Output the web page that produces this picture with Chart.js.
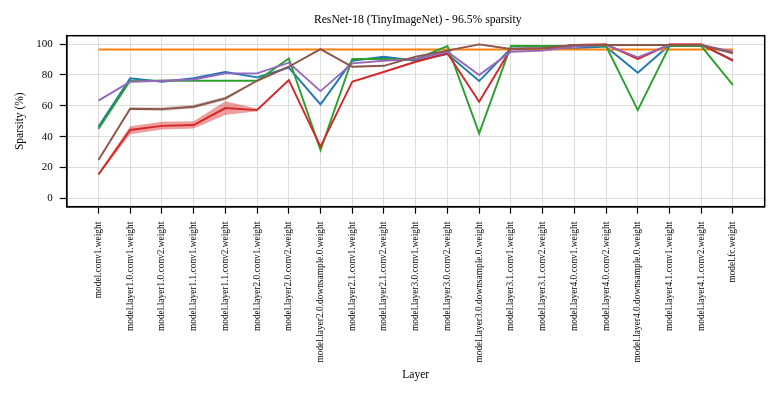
<!DOCTYPE html>
<html>
<head>
<meta charset="utf-8">
<script src="https://cdn.jsdelivr.net/npm/chart.js@4/dist/chart.umd.min.js"></script>
<style>
  html, body { margin: 0; padding: 0; background: #fff; }
  #wrap { width: 779px; height: 396px; }
</style>
</head>
<body>
<div id="wrap"><canvas id="myChart" width="779" height="396"></canvas></div>
<script>
// layer names on the x axis
const layerNames = [
  "model.conv1.weight",
  "model.layer1.0.conv1.weight",
  "model.layer1.0.conv2.weight",
  "model.layer1.1.conv1.weight",
  "model.layer1.1.conv2.weight",
  "model.layer2.0.conv1.weight",
  "model.layer2.0.conv2.weight",
  "model.layer2.0.downsample.0.weight",
  "model.layer2.1.conv1.weight",
  "model.layer2.1.conv2.weight",
  "model.layer3.0.conv1.weight",
  "model.layer3.0.conv2.weight",
  "model.layer3.0.downsample.0.weight",
  "model.layer3.1.conv1.weight",
  "model.layer3.1.conv2.weight",
  "model.layer4.0.conv1.weight",
  "model.layer4.0.conv2.weight",
  "model.layer4.0.downsample.0.weight",
  "model.layer4.1.conv1.weight",
  "model.layer4.1.conv2.weight",
  "model.fc.weight"
];

const yTicks = [0, 20, 40, 60, 80, 100];

// sparsity per layer (%)
const blueVals   = [46.4, 77.8, 75.6, 77.8, 81.9, 78.4, 84.7, 60.9, 89.2, 91.8, 89.2, 93.5, 76.0, 97.2, 97.2, 97.2, 98.3, 81.4, 99.4, 99.4, 89.6];
const orangeVals = [96.5, 96.5, 96.5, 96.5, 96.5, 96.5, 96.5, 96.5, 96.5, 96.5, 96.5, 96.5, 96.5, 96.5, 96.5, 96.5, 96.5, 96.5, 96.5, 96.5, 96.5];
const greenVals  = [44.9, 76.2, 76.2, 76.2, 76.2, 76.2, 90.7, 31.3, 90.3, 90.3, 90.1, 98.7, 42.1, 98.7, 98.7, 98.7, 98.7, 57.2, 98.7, 98.7, 73.4];
const redVals    = [15.5, 44.3, 47.0, 47.5, 58.5, 57.2, 76.7, 33.5, 75.6, 82.0, 88.5, 94.0, 62.6, 96.8, 97.2, 99.4, 99.8, 90.3, 99.8, 99.8, 89.2];
const purpleVals = [63.3, 75.6, 76.2, 77.0, 81.0, 81.0, 87.9, 69.5, 87.5, 89.2, 90.3, 95.0, 79.9, 95.0, 95.7, 98.3, 99.4, 91.4, 99.4, 99.4, 95.0];
const brownVals  = [24.8, 58.1, 57.8, 59.4, 64.8, 76.2, 85.3, 96.7, 85.3, 85.9, 91.8, 95.7, 99.8, 96.8, 97.2, 99.4, 99.4, 99.4, 99.4, 99.4, 94.0];

// spread around the red and brown runs
const redLow   = [14.6, 41.6, 44.7, 45.2, 54.0, 56.4, 76.0, 32.8, 74.9, 81.3, 87.8, 93.3, 61.9, 96.1, 96.5, 98.7, 99.1, 89.6, 99.1, 99.1, 88.5];
const redHigh  = [16.4, 46.8, 49.6, 50.0, 63.0, 58.2, 77.4, 34.2, 76.3, 82.7, 89.2, 94.7, 63.3, 97.5, 97.9, 100.1, 100.5, 91.0, 100.5, 100.5, 89.9];
const brownLow  = [24.3, 57.3, 56.6, 58.2, 63.6, 75.7, 84.8, 96.2, 84.8, 85.4, 91.3, 95.2, 99.3, 96.3, 96.7, 98.9, 98.9, 98.9, 98.9, 98.9, 93.5];
const brownHigh = [25.3, 58.9, 59.0, 60.6, 66.0, 76.7, 85.8, 97.2, 85.8, 86.4, 92.3, 96.2, 100.3, 97.3, 97.7, 99.9, 99.9, 99.9, 99.9, 99.9, 94.5];

const FONT = "'Liberation Serif', 'Times New Roman', serif";

function toPoints(vals) {
  return vals.map((v, i) => ({x: i, y: v}));
}

function lineSet(label, vals, color, order) {
  return {
    label: label,
    data: toPoints(vals),
    borderColor: color,
    backgroundColor: color,
    borderWidth: 1.9,
    pointRadius: 0,
    tension: 0,
    fill: false,
    order: order
  };
}

function bandSet(label, vals, color, fill, order) {
  return {
    label: label,
    data: toPoints(vals),
    borderWidth: 0,
    borderColor: 'rgba(0,0,0,0)',
    backgroundColor: color,
    pointRadius: 0,
    tension: 0,
    fill: fill,
    order: order
  };
}

// lower order = drawn on top
const datasets = [
  bandSet('redHigh', redHigh, 'rgba(214,39,40,0.45)', '+1', 20),
  bandSet('redLow', redLow, 'rgba(0,0,0,0)', false, 21),
  bandSet('brownHigh', brownHigh, 'rgba(140,86,75,0.35)', '+1', 22),
  bandSet('brownLow', brownLow, 'rgba(0,0,0,0)', false, 23),
  lineSet('blue', blueVals, '#1f77b4', 6),
  lineSet('orange', orangeVals, '#ff7f0e', 5),
  lineSet('green', greenVals, '#2ca02c', 4),
  lineSet('red', redVals, '#d62728', 3),
  lineSet('purple', purpleVals, '#9467bd', 2),
  lineSet('brown', brownVals, '#8c564b', 1)
];

// frame around the plot + title over the plot area
const framePlugin = {
  id: 'frame',
  afterDraw(chart) {
    const a = chart.chartArea;
    const ctx = chart.ctx;
    ctx.save();
    ctx.strokeStyle = '#000';
    ctx.lineWidth = 1.5;
    ctx.strokeRect(a.left, a.top, a.right - a.left, a.bottom - a.top);
    ctx.fillStyle = '#000';
    ctx.font = "11.7px " + FONT;
    ctx.textAlign = 'center';
    ctx.textBaseline = 'middle';
    ctx.fillText("ResNet-18 (TinyImageNet) - 96.5% sparsity", (a.left + a.right) / 2 + 2, 20);
    ctx.restore();
  }
};

const config = {
  type: 'line',
  data: { datasets: datasets },
  options: {
    responsive: false,
    animation: false,
    layout: { padding: { top: 35.7, right: 14.3, left: 0, bottom: 0 } },
    plugins: {
      legend: { display: false },
      tooltip: { enabled: false }
    },
    scales: {
      x: {
        type: 'linear',
        min: -1,
        max: 21,
        afterBuildTicks: (scale) => {
          scale.ticks = layerNames.map((n, i) => ({value: i}));
        },
        afterFit: (scale) => { scale.height = 189.3; },
        ticks: {
          autoSkip: false,
          minRotation: 90,
          maxRotation: 90,
          padding: 8,
          color: '#000',
          font: { family: FONT, size: 9.4 },
          callback: (v) => layerNames[v]
        },
        grid: { color: '#dddddd', lineWidth: 1, tickColor: '#000', tickLength: 7, tickWidth: 1.2 },
        border: { color: '#000', width: 1.5 },
        title: {
          display: true,
          text: 'Layer',
          color: '#000',
          font: { family: FONT, size: 11.5 },
          padding: { top: 0, bottom: 14 }
        }
      },
      y: {
        min: -5.4,
        max: 105.4,
        afterBuildTicks: (scale) => {
          scale.ticks = yTicks.map((v) => ({value: v}));
        },
        afterFit: (scale) => { scale.width = 66.7; },
        ticks: {
          padding: 7,
          color: '#000',
          font: { family: FONT, size: 11 }
        },
        grid: { color: '#dddddd', lineWidth: 1, tickColor: '#000', tickLength: 7, tickWidth: 1.2 },
        border: { color: '#000', width: 1.5 },
        title: {
          display: true,
          text: 'Sparsity (%)',
          color: '#000',
          font: { family: FONT, size: 11.5 },
          padding: { top: 13, bottom: 0 }
        }
      }
    }
  },
  plugins: [framePlugin]
};

const myChart = new Chart(document.getElementById('myChart'), config);
</script>
</body>
</html>
